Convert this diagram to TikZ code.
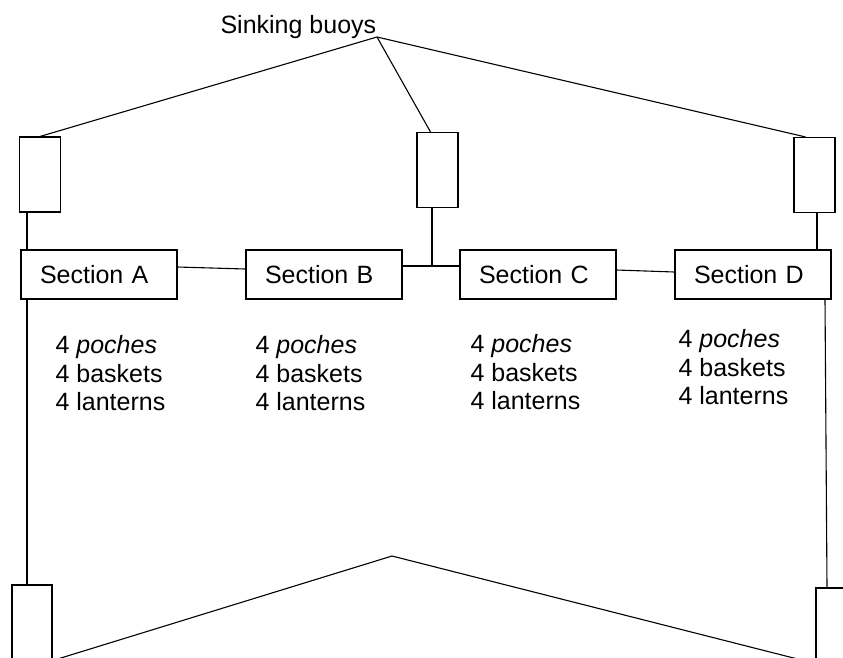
\documentclass[tikz,border=0pt]{standalone}
\usepackage{fontspec}
\setmainfont{Liberation Sans}
\usetikzlibrary{calc}
\tikzset{
  buoy/.style={draw, minimum width=41pt, minimum height=75pt, inner sep=0pt},
  section/.style={draw, minimum width=156pt, minimum height=49pt,
    inner ysep=0pt, inner xsep=19pt, text width=118pt, align=left},
  stock/.style={anchor=north west, inner sep=0pt, align=left}
}

\begin{document}
\begin{tikzpicture}[x=1pt, y=-1pt, line width=1.1pt,
    font=\fontsize{25}{28.5}\selectfont]
    \useasboundingbox (0,0) rectangle (843,657);
    \clip (0,0) rectangle (843,657);
    % buoys
    \node[buoy] (buoyL) at (40,174.5) {};
    \node[buoy] (buoyM) at (437.5,170) {};
    \node[buoy] (buoyR) at (814.5,175) {};
    \node[buoy, minimum width=40pt] (buoyLL) at (32,622.5) {};
    \node[buoy] (buoyRR) at (836.5,625.5) {};
    \node[anchor=base west, inner sep=0pt] (title) at (220,33) {Sinking buoys};
    \coordinate (tie) at (377,37);
    \draw (tie) -- (buoyL.north);
    \draw (tie) -- ([xshift=-7pt]buoyM.north);
    \draw (tie) -- ([xshift=-9pt]buoyR.north);
    % sections
    \foreach \s/\x in {A/99,B/324,C/538,D/753}
      \node[section] (sec\s) at (\x,274.5) {Section \s};
    \draw ([yshift=7.5pt]secA.east) -- ([yshift=5.5pt]secB.west);
    \draw ([yshift=8.5pt]secB.east) -- ([yshift=8.5pt]secC.west);
    \draw ([yshift=4.5pt]secC.east) -- ([yshift=2.5pt]secD.west);
    \coordinate (jBC) at (432,266);
    \draw ([xshift=-5.5pt]buoyM.south) -- (jBC);
    % moorings
    \coordinate (xl) at (27,0);
    \draw (buoyL.south -| xl) -- (secA.north -| xl);
    \draw (secA.south -| xl) -- (buoyLL.north -| xl);
    \draw ([xshift=2.5pt]buoyR.south) -- ([xshift=2.5pt]buoyR.south |- secD.north);
    \draw ([xshift=72pt]secD.south) -- ([xshift=-9.5pt]buoyRR.north);
    \coordinate (dip) at (392,556);
    \draw (buoyLL.south east) -- (dip) -- (buoyRR.south west);
    % contents
    \foreach \s/\x/\y in {A/55/335,B/255/335,C/470/334,D/678/329}
      \node[stock] (list\s) at (\x,\y) {4 \textit{poches}\\4 baskets\\4 lanterns};
\end{tikzpicture}
\end{document}
